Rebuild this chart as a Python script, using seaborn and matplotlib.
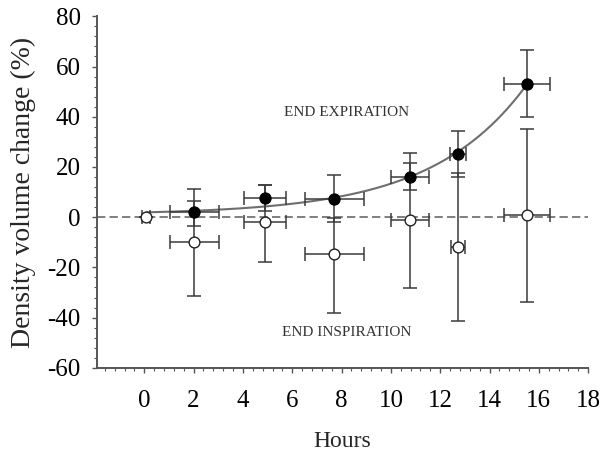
import numpy as np
import pandas as pd
import matplotlib
matplotlib.use("Agg")
import matplotlib.pyplot as plt
from matplotlib.ticker import MultipleLocator
import seaborn as sns

# ---- data ----
exp_hours = [2.03, 4.88, 7.70, 10.78, 12.72, 15.51]
exp_change = [2.0, 7.7, 7.3, 16.2, 25.2, 53.1]
exp_upper = [11.3, 12.9, 16.6, 25.7, 34.5, 66.4]
exp_lower = [-3.5, 2.5, -2.0, 10.9, 15.9, 39.7]
exp_hours_err = [1.00, 0.85, 1.20, 0.76, 0.33, 0.93]

insp_hours = [0.08, 2.03, 4.88, 7.70, 10.78, 12.72, 15.51]
insp_change = [0.0, -10.0, -2.1, -14.7, -1.1, -11.7, 0.9]
insp_upper = [0.0, 6.6, 12.9, -0.4, 21.5, 17.5, 35.3]
insp_lower = [0.0, -31.4, -17.7, -38.2, -28.3, -41.2, -33.6]
insp_hours_err = [0.17, 1.00, 0.85, 1.20, 0.76, 0.30, 0.93]

x_ticks = [0, 2, 4, 6, 8, 10, 12, 14, 16, 18]
y_ticks = [-60, -40, -20, 0, 20, 40, 60, 80]

sns.set_style("ticks")
plt.rcParams["font.family"] = ["Liberation Serif", "DejaVu Serif"]
plt.rcParams["axes.unicode_minus"] = False

fig = plt.figure(figsize=(6.02, 4.53), dpi=100)
ax = fig.add_axes([0.161, 0.188, 0.816, 0.776])

# exponential fit through the end-expiration points and the common baseline (0 h, 0 %)
xe = np.array([insp_hours[0]] + exp_hours)
ye = np.array([insp_change[0]] + exp_change)
best = None
for b in np.linspace(0.05, 0.6, 2201):
    A = np.column_stack([np.ones_like(xe), np.exp(b * xe)])
    coef, *_ = np.linalg.lstsq(A, ye, rcond=None)
    r = np.sum((A @ coef - ye) ** 2)
    if best is None or r < best[0]:
        best = (r, b, coef)
_, bfit, (cfit, afit) = best
xf = np.linspace(insp_hours[0], exp_hours[-1], 200)
fit_df = pd.DataFrame({"Hours": xf, "fit": cfit + afit * np.exp(bfit * xf)})

ax.axhline(0, color="#6a6a6a", lw=1.2, dashes=(5, 2.5), zorder=1)
sns.lineplot(data=fit_df, x="Hours", y="fit", ax=ax, color="#6e6e6e", lw=1.5, zorder=2)

ec = "#3a3a3a"
ie = np.array(insp_change)
ey = np.array(exp_change)
ax.errorbar(insp_hours, insp_change, xerr=insp_hours_err,
            yerr=[ie - np.array(insp_lower), np.array(insp_upper) - ie],
            fmt="none", ecolor=ec, elinewidth=1.1, capsize=5, capthick=1.1, zorder=3)
ax.errorbar(exp_hours, exp_change, xerr=exp_hours_err,
            yerr=[ey - np.array(exp_lower), np.array(exp_upper) - ey],
            fmt="none", ecolor=ec, elinewidth=1.1, capsize=5, capthick=1.1, zorder=3)

insp_df = pd.DataFrame({"Hours": insp_hours, "change": insp_change})
exp_df = pd.DataFrame({"Hours": exp_hours, "change": exp_change})
sns.scatterplot(data=insp_df, x="Hours", y="change", ax=ax, marker="o", s=60,
                facecolor="white", edgecolor="#222222", linewidth=1.0, zorder=4)
sns.scatterplot(data=exp_df, x="Hours", y="change", ax=ax, marker="o", s=65,
                color="black", edgecolor="black", linewidth=0.8, zorder=5)

ax.text(8.2, 41.7, "END EXPIRATION", ha="center", va="center", fontsize=11, color="#333333")
ax.text(8.2, -46.0, "END INSPIRATION", ha="center", va="center", fontsize=11, color="#333333")

ax.set_xlim(-1.92, 18)
ax.set_ylim(-60, 80)
ax.set_xticks(x_ticks)
ax.set_yticks(y_ticks)
ax.xaxis.set_minor_locator(MultipleLocator(0.4))
ax.yaxis.set_minor_locator(MultipleLocator(4))
ax.tick_params(axis="both", which="major", direction="out", length=3.6, width=1.0,
               color="#555555", labelsize=18, labelcolor="black")
ax.tick_params(axis="both", which="minor", direction="out", length=2.0, width=0.8, color="#555555")
ax.tick_params(axis="x", which="major", pad=12)
ax.tick_params(axis="y", which="major", pad=8)
for s in ["top", "right"]:
    ax.spines[s].set_visible(False)
for s in ["left", "bottom"]:
    ax.spines[s].set_color("#555555")
    ax.spines[s].set_linewidth(1.4)

ax.set_xlabel("Hours", fontsize=17, labelpad=14)
ax.set_ylabel("Density volume change (%)", fontsize=20, labelpad=8)

fig.savefig("out.png", dpi=100)
